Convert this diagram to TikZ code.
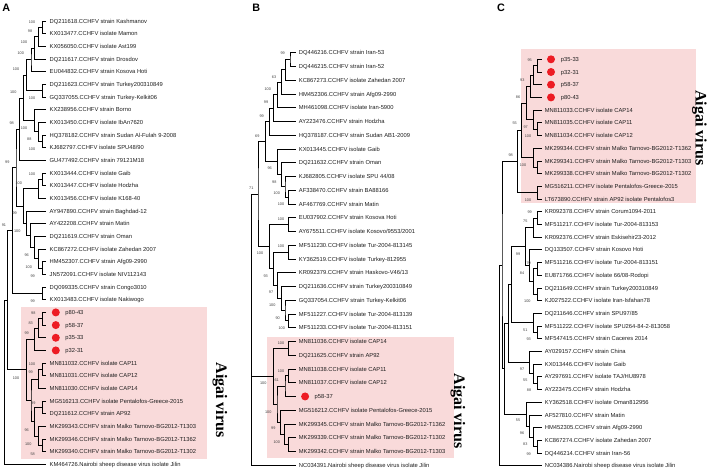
\documentclass[tikz,border=0pt]{standalone}
\usepackage{fontspec}
\setmainfont{Liberation Sans}
\newfontfamily\aigaifont{Liberation Serif}
\usetikzlibrary{calc}
\definecolor{pinkbg}{RGB}{249,218,218}
\definecolor{dotred}{RGB}{237,28,36}
\definecolor{txt}{RGB}{30,30,30}
\newcommand\jn[4]{\path let \p1=($(#3)!0.5!(#4)$) in (#2pt,\y1) coordinate (#1);
  \draw[br] (#3) -| (#1) |- (#4);}
\begin{document}
\begin{tikzpicture}[x=1pt,y=-1pt,
  br/.style={line width=0.8pt,black},
  lab/.style={font=\fontsize{5.8}{6}\selectfont,text=txt,inner sep=0pt,anchor=base west},
  bs/.style={font=\fontsize{3.8}{4}\selectfont,text=txt!85,inner sep=0pt},
  dotn/.style={circle,fill=dotred,draw=none,inner sep=0pt,minimum size=8pt},
  ttl/.style={font=\fontsize{10.8}{11}\selectfont\bfseries,inner sep=0pt},
  aig/.style={font=\aigaifont\fontsize{16}{16}\selectfont\bfseries,inner sep=0pt,rotate=-90}]
\useasboundingbox (0,0) rectangle (708,471);
\fill[white] (0,0) rectangle (708,471);
% pink clade boxes
\fill[pinkbg] (20.7,306.7) rectangle (206.7,459.3);
\fill[pinkbg] (266.7,336.7) rectangle (454.3,458);
\fill[pinkbg] (521.3,48.7) rectangle (695.7,203.3);
% titles
\node[ttl] (tA) at (6.2,7.9) {A};
\node[ttl] (tB) at (256.2,7.5) {B};
\node[ttl] (tC) at (501,7.5) {C};
\node[aig] (gA) at (220,400) {Aigai virus};
\node[aig] (gB) at (458,411) {Aigai virus};
\node[aig] (gC) at (699.5,128) {Aigai virus};
% ================= PANEL A =================
\foreach \i in {0,...,35}{\coordinate (At\i) at (46,{21+12.67*\i});}
\foreach \i/\t in {0/{DQ211618.CCHFV strain Kashmanov},1/{KX013477.CCHFV isolate Mamon},
 2/{KX056050.CCHFV isolate Ast199},3/{DQ211617.CCHFV strain Drosdov},
 4/{EU044832.CCHFV strain Kosova Hoti},5/{DQ211623.CCHFV strain Turkey200310849},
 6/{GQ337055.CCHFV strain Turkey-Kelkit06},7/{KX238956.CCHFV strain Borno},
 8/{KX013450.CCHFV isolate IbAn7620},9/{HQ378182.CCHFV strain Sudan Al-Fulah 9-2008},
 10/{KJ682797.CCHFV isolate SPU48/90},11/{GU477492.CCHFV strain 79121M18},
 12/{KX013444.CCHFV isolate Gaib},13/{KX013447.CCHFV isolate Hodzha},
 14/{KX013456.CCHFV isolate K168-40},15/{AY947890.CCHFV strain Baghdad-12},
 16/{AY422208.CCHFV strain Matin},17/{DQ211619.CCHFV strain Oman},
 18/{KC867272.CCHFV isolate Zahedan 2007},19/{HM452307.CCHFV strain Afg09-2990},
 20/{JN572091.CCHFV isolate NIV112143},21/{DQ099335.CCHFV strain Congo3010},
 22/{KX013483.CCHFV isolate Nakiwogo},27/{MN811032.CCHFV isolate CAP11},
 28/{MN811031.CCHFV isolate CAP12},29/{MN811030.CCHFV isolate CAP14},
 30/{MG516213.CCHFV isolate Pentalofos-Greece-2015},31/{DQ211612.CCHFV strain AP92},
 32/{MK299343.CCHFV strain Malko Tarnovo-BG2012-T1303},
 33/{MK299346.CCHFV strain Malko Tarnovo-BG2012-T1362},
 34/{MK299340.CCHFV strain Malko Tarnovo-BG2012-T1302},
 35/{KM464726.Nairobi sheep disease virus isolate Jilin}}
 {\node[lab] (AL\i) at ($(At\i)+(3.5,2.1)$) {\t};}
\foreach \i/\t in {23/p80-43,24/p58-37,25/p35-33,26/p32-31}
 {\node[dotn] (AD\i) at ($(At\i)+(9.8,0)$) {};
  \node[lab] (AL\i) at ($(At\i)+(19.2,2.1)$) {\t};}
\jn{a1}{42.7}{At0}{At1}
\jn{a2}{38.7}{a1}{At2}
\jn{a3}{34.7}{a2}{At3}
\jn{a4}{31}{a3}{At4}
\jn{aT}{42.7}{At5}{At6}
\jn{a5}{26.7}{a4}{aT}
\jn{aS}{42.7}{At9}{At10}
\jn{aI}{38.7}{At8}{aS}
\jn{aB}{34.7}{At7}{aI}
\jn{a6}{23.3}{a5}{aB}
\jn{a7}{19.7}{a6}{At11}
\jn{bG}{42.7}{At12}{At13}
\jn{bG2}{38.7}{bG}{At14}
\jn{bHJ}{42.7}{At19}{At20}
\jn{bZ}{38.7}{At18}{bHJ}
\jn{bO}{34.7}{At17}{bZ}
\jn{bM}{30.7}{At16}{bO}
\jn{bB}{26.7}{At15}{bM}
\jn{bGB}{23.3}{bG2}{bB}
\jn{a8}{16}{a7}{bGB}
\jn{c1}{42.7}{At21}{At22}
\jn{a9}{12.3}{a8}{c1}
\jn{d1}{42.7}{At23}{At24}
\jn{d2}{38.7}{d1}{At25}
\jn{d3}{34.7}{d2}{At26}
\jn{d4}{42.7}{At27}{At28}
\jn{d5}{38.7}{d4}{At29}
\jn{d6}{42.7}{At30}{At31}
\jn{d7}{42.7}{At33}{At34}
\jn{d8}{38.7}{At32}{d7}
\jn{d9}{34.7}{d6}{d8}
\jn{d10}{31}{d5}{d9}
\jn{d11}{26.7}{d3}{d10}
\jn{a10}{7.3}{a9}{d11}
\jn{aR}{4.3}{a10}{At35}
\foreach \bx/\by/\bt in {32/21.7/100,30/31/98,24/42.3/100,20.7/53.3/100,16/69/100,
 32/98.3/100,13.3/91.7/100,11.7/122.7/98,24/127.7/100,29.3/139.3/88,32/149/100,
 7.3/161.7/99,32/174.3/100,18.7/183.3/100,14.7/213.3/99,4/224.7/91,17.3/231/100,
 26.7/255.3/96,28.7/266.7/100,32.7/276/99,32.7/301/99,33.3/313.3/98,30.7/322.7/83,
 26.7/333.3/99,32/364/100,30.7/372.5/99,16/377.7/100,33.3/402.7/99,26.7/430/96,
 28.3/444/100,32.7/454.3/58}
 {\node[bs] at (\bx,\by) {\bt};}
% ================= PANEL B =================
\foreach \i in {0,...,30}{\coordinate (Bt\i) at (295.5,{52.7+13.75*\i});}
\foreach \i/\t in {0/{DQ446216.CCHFV strain Iran-53},1/{DQ446215.CCHFV strain Iran-52},
 2/{KC867273.CCHFV isolate Zahedan 2007},3/{HM452306.CCHFV strain Afg09-2990},
 4/{MH461098.CCHFV isolate Iran-5900},5/{AY223476.CCHFV strain Hodzha},
 6/{HQ378187.CCHFV strain Sudan AB1-2009},7/{KX013445.CCHFV isolate Gaib},
 8/{DQ211632.CCHFV strain Oman},9/{KJ682805.CCHFV isolate SPU 44/08},
 10/{AF338470.CCHFV strain BA88166},11/{AF467769.CCHFV strain Matin},
 12/{EU037902.CCHFV strain Kosova Hoti},13/{AY675511.CCHFV isolate Kosovo/9553/2001},
 14/{MF511230.CCHFV isolate Tur-2004-813145},15/{KY362519.CCHFV isolate Turkey-812955},
 16/{KR092379.CCHFV strain Haskovo-V46/13},17/{DQ211636.CCHFV strain Turkey200310849},
 18/{GQ337054.CCHFV strain Turkey-Kelkit06},19/{MF511227.CCHFV isolate Tur-2004-813139},
 20/{MF511233.CCHFV isolate Tur-2004-813151},21/{MN811036.CCHFV isolate CAP14},
 22/{DQ211625.CCHFV strain AP92},23/{MN811038.CCHFV isolate CAP11},
 24/{MN811037.CCHFV isolate CAP12},26/{MG516212.CCHFV isolate Pentalofos-Greece-2015},
 27/{MK299345.CCHFV strain Malko Tarnovo-BG2012-T1362},
 28/{MK299339.CCHFV strain Malko Tarnovo-BG2012-T1302},
 29/{MK299342.CCHFV strain Malko Tarnovo-BG2012-T1303},
 30/{NC034391.Nairobi sheep disease virus isolate Jilin}}
 {\node[lab] (BL\i) at ($(Bt\i)+(3.2,2.1)$) {\t};}
\node[dotn] (BD25) at ($(Bt25)+(9.6,0)$) {};
\node[lab] (BL25) at ($(Bt25)+(19,2.1)$) {p58-37};
\jn{n1}{290}{Bt0}{Bt1}
\jn{n2}{285.7}{n1}{Bt2}
\jn{n3}{281.7}{n2}{Bt3}
\jn{n4}{277.7}{n3}{Bt4}
\jn{n5}{273.7}{n4}{Bt5}
\jn{n6}{269.3}{n5}{Bt6}
\jn{nAF}{288.3}{Bt10}{Bt11}
\jn{nKJ}{285}{Bt9}{nAF}
\jn{nOm}{281.7}{Bt8}{nKJ}
\jn{nGa}{277.7}{Bt7}{nOm}
\jn{n7}{265.3}{n6}{nGa}
\jn{nEU}{288.3}{Bt12}{Bt13}
\jn{nMF}{288.3}{Bt14}{Bt15}
\jn{nMM}{288.3}{Bt19}{Bt20}
\jn{nGQ}{285}{Bt18}{nMM}
\jn{nDQ}{281.7}{Bt17}{nGQ}
\jn{nKR}{277.7}{Bt16}{nDQ}
\jn{nMK}{273.7}{nMF}{nKR}
\jn{nLow}{269.3}{nEU}{nMK}
\jn{nTop}{258}{n7}{nLow}
\jn{nC14}{288.3}{Bt21}{Bt22}
\jn{nC11}{288.3}{Bt23}{Bt24}
\jn{nP58}{285}{nC11}{Bt25}
\jn{nMK2}{288.3}{Bt28}{Bt29}
\jn{nMK1}{284.3}{Bt27}{nMK2}
\jn{nMG}{280.3}{Bt26}{nMK1}
\jn{nRest}{277}{nP58}{nMG}
\jn{nAig}{273.3}{nC14}{nRest}
% trifurcating root of B
\path let \p1=(nTop) in (251.3pt,\y1) coordinate (nR);
\draw[br] (nTop) -| (nR) |- (Bt30);
\draw[br] (nR |- nAig) -- (nAig);
\foreach \bx/\by/\bt in {282.7/53.3/99,274/76.7/63,267.7/89.3/100,266/101.7/99,
 261.7/116/99,257.3/136/69,269.7/168.3/96,274.3/181.7/98,276.7/193.3/100,281/204.3/100,
 251.3/187.7/71,281/219/100,281/246/100,260/253.3/100,265.7/276/93,271/291.7/97,
 272.3/305.3/100,277.7/318.3/90,281.7/328.3/100,281/342.7/100,281/370.7/100,276.7/380/61,
 263.3/383.3/100,268.3/411.7/100,273.3/428.3/99,276.7/441.7/100}
 {\node[bs] at (\bx,\by) {\bt};}
% ================= PANEL C =================
\foreach \i in {0,...,32}{\coordinate (Ct\i) at (541.5,{59.3+12.7*\i});}
\foreach \i/\t in {4/{MN811033.CCHFV isolate CAP14},5/{MN811035.CCHFV isolate CAP11},
 6/{MN811034.CCHFV isolate CAP12},7/{MK299344.CCHFV strain Malko Tarnovo-BG2012-T1362},
 8/{MK299341.CCHFV strain Malko Tarnovo-BG2012-T1303},
 9/{MK299338.CCHFV strain Malko Tarnovo-BG2012-T1302},
 10/{MG516211.CCHFV isolate Pentalofos-Greece-2015},
 11/{LT673890.CCHFV strain AP92 isolate Pentalofos3},12/{KR092378.CCHFV strain Corum1094-2011},
 13/{MF511217.CCHFV isolate Tur-2004-813153},14/{KR092376.CCHFV strain Eskisehir23-2012},
 15/{DQ133507.CCHFV strain Kosovo Hoti},16/{MF511216.CCHFV isolate Tur-2004-813151},
 17/{EU871766.CCHFV isolate 66/08-Rodopi},18/{DQ211649.CCHFV strain Turkey200310849},
 19/{KJ027522.CCHFV isolate Iran-Isfahan78},20/{DQ211646.CCHFV strain SPU97/85},
 21/{MF511222.CCHFV isolate SPU264-84-2-813058},22/{MF547415.CCHFV strain Caceres 2014},
 23/{AY029157.CCHFV strain China},24/{KX013446.CCHFV isolate Gaib},
 25/{AY297691.CCHFV isolate TAJ/HU8978},26/{AY223475.CCHFV strain Hodzha},
 27/{KY362518.CCHFV isolate Oman812956},28/{AF527810.CCHFV strain Matin},
 29/{HM452305.CCHFV strain Afg09-2990},30/{KC867274.CCHFV isolate Zahedan 2007},
 31/{DQ446214.CCHFV strain Iran-56},32/{NC034386.Nairobi sheep disease virus isolate Jilin}}
 {\node[lab] (CL\i) at ($(Ct\i)+(3.2,2.1)$) {\t};}
\foreach \i/\t in {0/p35-33,1/p32-31,2/p58-37,3/p80-43}
 {\node[dotn] (CD\i) at ($(Ct\i)+(9.5,0)$) {};
  \node[lab] (CL\i) at ($(Ct\i)+(19.2,2.1)$) {\t};}
\jn{e1}{537.7}{Ct0}{Ct1}
\jn{e2}{533.7}{e1}{Ct2}
\jn{e3}{530}{e2}{Ct3}
\jn{e4}{537.7}{Ct5}{Ct6}
\jn{e5}{533.7}{Ct4}{e4}
\jn{e6}{526.3}{e3}{e5}
\jn{e7}{537.7}{Ct8}{Ct9}
\jn{e8}{533.7}{Ct7}{e7}
\jn{e9}{521.7}{e6}{e8}
\jn{e10}{537.7}{Ct10}{Ct11}
\jn{e11}{517.3}{e9}{e10}
\jn{f1}{537.7}{Ct12}{Ct13}
\jn{f2}{533.7}{f1}{Ct14}
\jn{f3}{537.7}{Ct16}{Ct17}
\jn{f4}{537.7}{Ct18}{Ct19}
\jn{f5}{533.7}{f3}{f4}
\jn{f6}{529.7}{Ct15}{f5}
\jn{f7}{525.3}{f2}{f6}
\jn{g1}{537.7}{Ct21}{Ct22}
\jn{g2}{533.7}{Ct20}{g1}
\jn{g3}{511.3}{f7}{g2}
\jn{h1}{537.7}{Ct25}{Ct26}
\jn{h2}{533.7}{Ct24}{h1}
\jn{h3}{529.7}{Ct23}{h2}
\jn{j1}{508}{g3}{h3}
\jn{i1}{537.7}{Ct30}{Ct31}
\jn{i2}{533.7}{Ct29}{i1}
\jn{i3}{529.7}{Ct28}{i2}
\jn{i4}{526}{Ct27}{i3}
\jn{j2}{504.5}{j1}{i4}
\jn{k}{502}{e11}{j2}
\jn{cR}{499.5}{k}{Ct32}
\foreach \bx/\by/\bt in {529.7/60/95,522.3/80/93,518/96.7/86,514.7/123.3/55,525.7/126.7/97,
 528/136/100,510.7/155/98,523/165/100,528/200/100,529.7/212.3/99,525.3/221.7/75,
 518/254/99,528.7/262.7/70,522/272.7/84,527.3/301/100,525.3/330/51,528.7/339.3/93,
 522/369.3/97,525.3/380/55,529/390/88,518/420.7/55,522/432.7/96,525.3/444/83,528.7/454/99}
 {\node[bs] at (\bx,\by) {\bt};}
\end{tikzpicture}
\end{document}
